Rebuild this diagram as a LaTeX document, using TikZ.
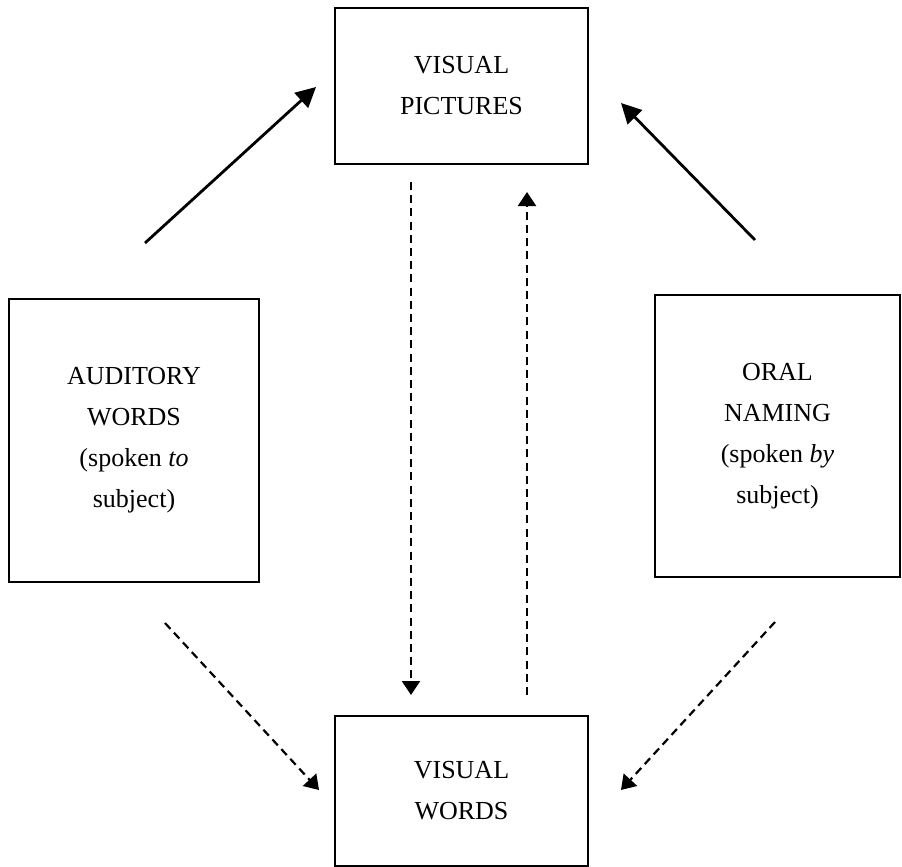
\documentclass[tikz,border=0pt]{standalone}
\usepackage{fontspec}
\setmainfont{Liberation Serif}
\usetikzlibrary{arrows.meta}

\tikzset{
  modebox/.style={draw, line width=1pt, rectangle, align=center,
    font=\fontsize{13}{20.5}\selectfont},
  solidarrow/.style={line width=1.4pt, -{Triangle[length=10pt,width=10pt]}},
  dasharrow/.style={line width=1.1pt, dash pattern=on 4pt off 2.6pt,
    -{Triangle[length=7pt,width=9pt]}}
}

\begin{document}
\begin{tikzpicture}[x=0.5pt, y=-0.5pt]
  \useasboundingbox (0,0) rectangle (902,867);

  % boxes
  \node[modebox, minimum width=126.5pt, minimum height=78pt] (pict) at (461.5,86) {VISUAL\\PICTURES};
  \node[modebox, minimum width=125pt, minimum height=141.5pt] (aud) at (134,440.5) {AUDITORY\\WORDS\\(spoken \textit{to}\\subject)};
  \node[modebox, minimum width=122.5pt, minimum height=141pt] (oral) at (777.5,436) {ORAL\\NAMING\\(spoken \textit{by}\\subject)};
  \node[modebox, minimum width=126.5pt, minimum height=75pt] (vwords) at (461.5,791) {VISUAL\\WORDS};

  % free ends of the connectors
  \coordinate (audup) at (145,243);
  \coordinate (pictleft) at (316,87);
  \coordinate (oralup) at (755,240);
  \coordinate (pictright) at (621,103);
  \coordinate (pictdown) at (411,182);
  \coordinate (wordsin) at (411,695);
  \coordinate (wordsup) at (527,695);
  \coordinate (pictin) at (527,192);
  \coordinate (auddown) at (165,623);
  \coordinate (wordsleft) at (319,790);
  \coordinate (oraldown) at (775,622);
  \coordinate (wordsright) at (621,790);

  % solid arrows to the pictures
  \draw[solidarrow] (audup) -- (pictleft);
  \draw[solidarrow] (oralup) -- (pictright);

  % dashed arrows between pictures and words
  \draw[dasharrow] (pictdown) -- (wordsin);
  \draw[dasharrow] (wordsup) -- (pictin);

  % dashed arrows to the visual words
  \draw[dasharrow] (auddown) -- (wordsleft);
  \draw[dasharrow] (oraldown) -- (wordsright);
\end{tikzpicture}
\end{document}
